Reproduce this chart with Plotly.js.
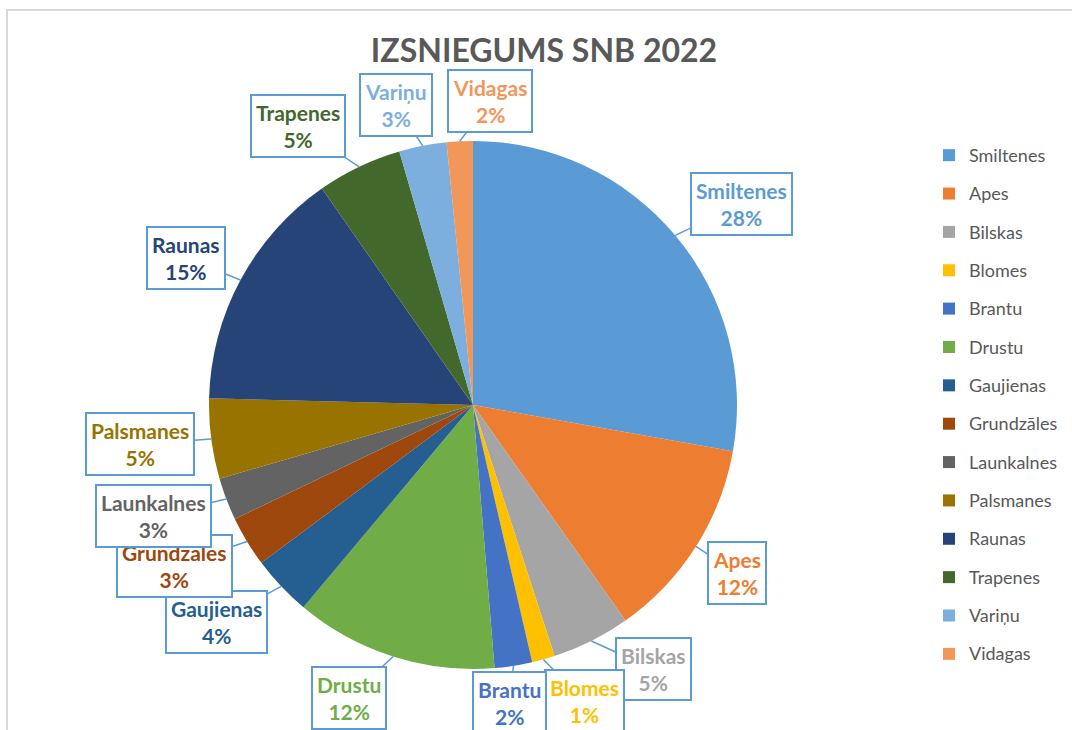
<!DOCTYPE html>
<html><head><meta charset="utf-8">
<script src="https://cdn.plot.ly/plotly-3.0.1.min.js"></script>
<style>html,body{margin:0;padding:0;background:#fff;} #chart{width:1072px;height:730px;}</style>
</head><body><div id="chart"></div>
<script>
// ---- data ----
const categories = ["Smiltenes","Apes","Bilskas","Blomes","Brantu","Drustu","Gaujienas","Grundzāles","Launkalnes","Palsmanes","Raunas","Trapenes","Variņu","Vidagas"];
const values = [27.8,12.4,4.8,1.4,2.3,12.4,3.7,3.1,2.6,4.9,14.9,5.2,2.9,1.6];
const colors = ["#5B9BD5","#ED7D31","#A5A5A5","#FFC000","#4472C4","#70AD47","#255E91","#9E480E","#636363","#997300","#264478","#43682B","#7CAFDD","#F1975A"];
const chartTitle = "IZSNIEGUMS SNB 2022";

// ---- layout (label box centres in px) ----
const labelBoxX = [741,737,653,584,509,349,216,174,153,140,186,298,396,490];
const labelBoxY = [204,573,669,701,703,698,622,566,516,444,258,126,105,101];

const W = 1072, H = 730;
const CX = 473, CY = 405, R = 264;
const FONT = "Lato, 'Open Sans', sans-serif";

const total = values.reduce((a,b)=>a+b,0);
let cum = 0;
const annotations = values.map((v,i)=>{
  const mid = (cum + v/2)/total*2*Math.PI;
  cum += v;
  const px = CX + R*Math.sin(mid);
  const py = CY - R*Math.cos(mid);
  const pct = Math.round(v/total*100) + "%";
  return {
    xref:'paper', yref:'paper',
    x: px/W, y: (H-py)/H,
    ax: labelBoxX[i]-px, ay: labelBoxY[i]-py,
    text: categories[i] + "<br>" + pct,
    showarrow:true, arrowhead:0, arrowwidth:1.5, arrowcolor:"#5B9BD5", standoff:0,
    font:{family:FONT, size:21, weight:'bold', color:colors[i]},
    align:'center', bgcolor:'#ffffff', bordercolor:'#5B9BD5', borderwidth:2, borderpad:4
  };
});

const legendLabels = categories.map(c => '<span style="font-size:18px;baseline-shift:4px">' + c + '</span>');

const trace = {
  type:'pie',
  labels: legendLabels,
  values: values,
  marker:{colors: colors, line:{width:0}},
  sort:false, direction:'clockwise', rotation:0,
  textinfo:'none', hoverinfo:'none',
  domain:{x:[(CX-R)/W,(CX+R)/W], y:[(H-CY-R)/H,(H-CY+R)/H]}
};

const layout = {
  width:W, height:H,
  margin:{l:0,r:0,t:0,b:0},
  paper_bgcolor:'#ffffff',
  title:{text:chartTitle, font:{family:FONT, size:32, weight:'bold', color:'#595959'},
         x:544/W, xanchor:'center', xref:'paper', y:1-51/H, yanchor:'middle', yref:'container'},
  showlegend:true,
  legend:{x:929/W, xanchor:'left', y:(H-131)/H, yanchor:'top',
          font:{family:FONT, size:27.2, color:'#595959'}, bgcolor:'rgba(0,0,0,0)', itemclick:false},
  shapes:[{type:'rect', xref:'paper', yref:'paper', x0:7/W, x1:1.02, y0:-0.02, y1:(H-10)/H,
           line:{color:'#D9D9D9', width:2}, layer:'below'}],
  annotations: annotations
};

Plotly.newPlot('chart',[trace],layout,{displayModeBar:false, staticPlot:true});
</script>
</body></html>
